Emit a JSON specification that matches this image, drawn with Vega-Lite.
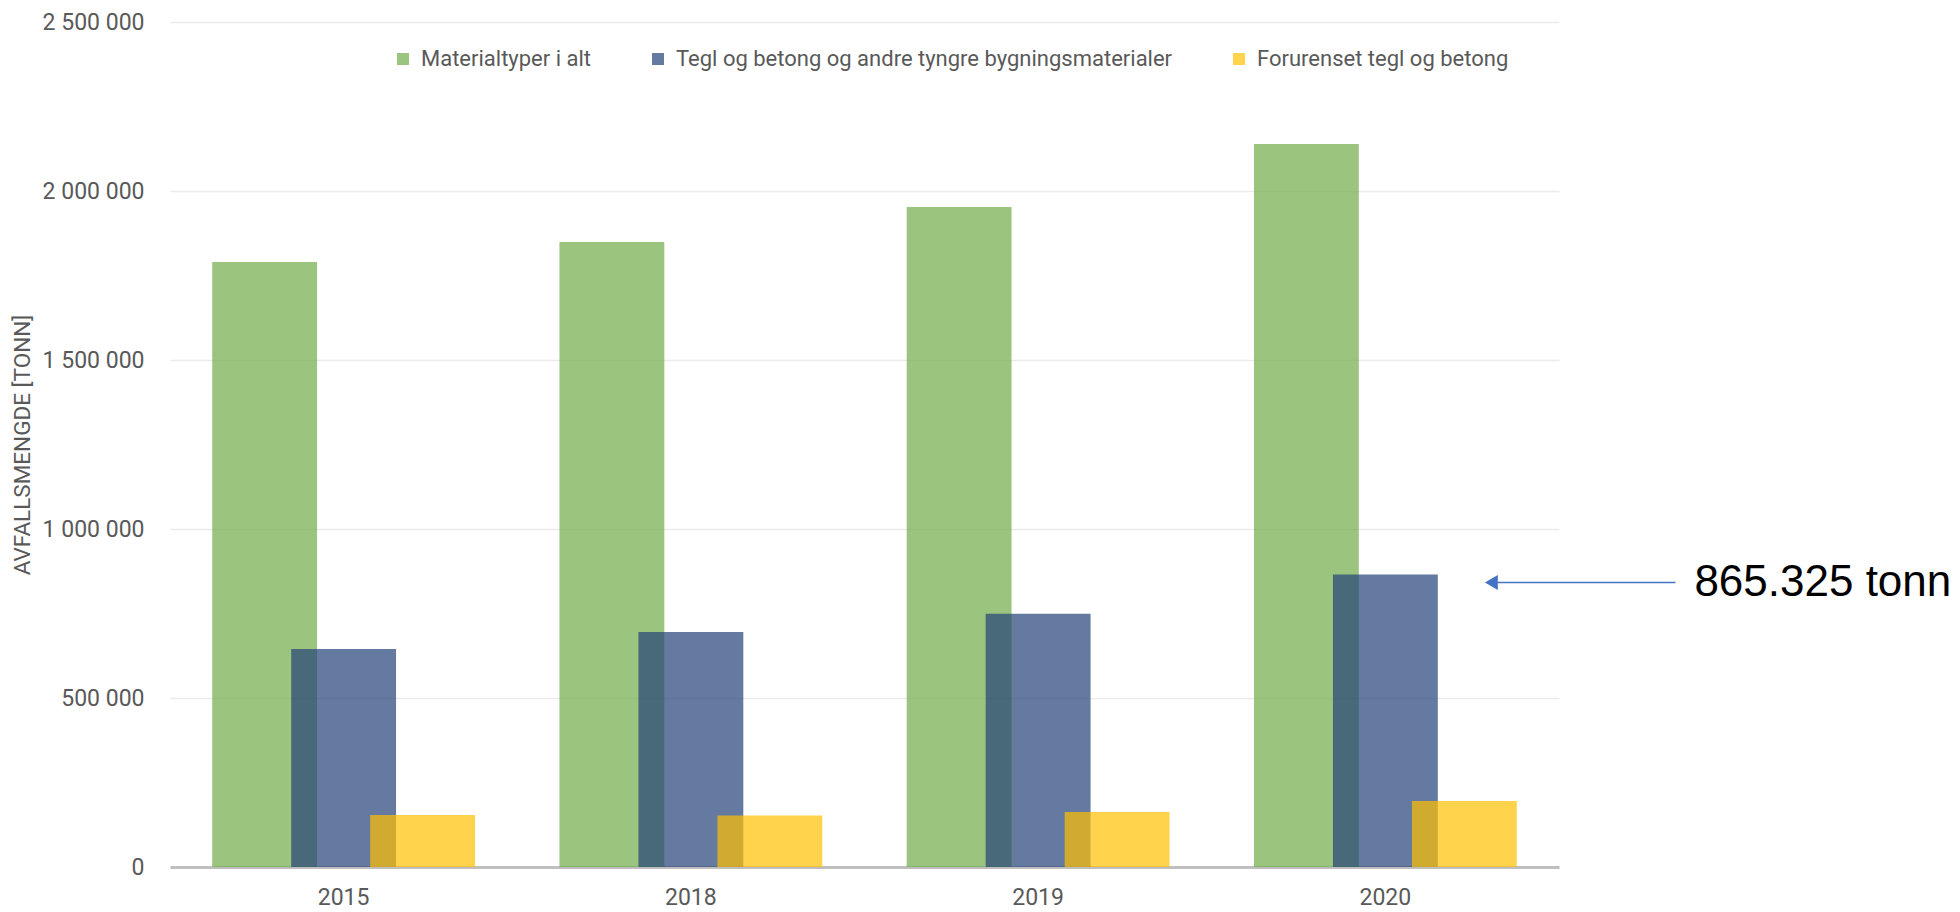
{
  "$schema": "https://vega.github.io/schema/vega-lite/v6.json",
  "width": 1389,
  "height": 845,
  "autosize": {"type": "none"},
  "padding": {"left": 170, "top": 22, "right": 401, "bottom": 45},
  "background": "white",
  "config": {
    "view": {"stroke": null},
    "font": "Roboto, sans-serif",
    "axis": {"labelFont": "Roboto, sans-serif", "titleFont": "Roboto, sans-serif"},
    "legend": {"labelFont": "Roboto, sans-serif"}
  },
  "datasets": {
    "bars": [
      {"year": "2015", "series": "Materialtyper i alt", "value": 1790000},
      {"year": "2018", "series": "Materialtyper i alt", "value": 1849000},
      {"year": "2019", "series": "Materialtyper i alt", "value": 1953000},
      {"year": "2020", "series": "Materialtyper i alt", "value": 2139000},
      {"year": "2015", "series": "Tegl og betong og andre tyngre bygningsmaterialer", "value": 645000},
      {"year": "2018", "series": "Tegl og betong og andre tyngre bygningsmaterialer", "value": 695000},
      {"year": "2019", "series": "Tegl og betong og andre tyngre bygningsmaterialer", "value": 749000},
      {"year": "2020", "series": "Tegl og betong og andre tyngre bygningsmaterialer", "value": 865325},
      {"year": "2015", "series": "Forurenset tegl og betong", "value": 154000},
      {"year": "2018", "series": "Forurenset tegl og betong", "value": 152000},
      {"year": "2019", "series": "Forurenset tegl og betong", "value": 163000},
      {"year": "2020", "series": "Forurenset tegl og betong", "value": 195000}
    ],
    "note": [
      {"year": "2020", "value": 865325, "label": "865.325 tonn"}
    ]
  },
  "encoding": {
    "x": {
      "field": "year", "type": "ordinal",
      "scale": {"domain": ["2015", "2018", "2019", "2020"], "paddingInner": 0, "paddingOuter": 0},
      "axis": {"title": null, "labelAngle": 0, "domainColor": "#BFBFBF", "domainWidth": 3, "ticks": false, "labelPadding": 19, "labelFontSize": 23, "labelColor": "#595959", "grid": false}
    },
    "y": {
      "field": "value", "type": "quantitative",
      "scale": {"domain": [0, 2500000], "nice": false},
      "axis": {
        "title": "AVFALLSMENGDE [TONN]",
        "values": [0, 500000, 1000000, 1500000, 2000000, 2500000],
        "labelExpr": "replace(format(datum.value, ','), /,/g, ' ')",
        "domain": false, "ticks": false,
        "gridColor": "#EBEBEB", "gridWidth": 1.5,
        "labelPadding": 26, "labelFontSize": 23, "labelColor": "#595959",
        "titleFontSize": 22.5, "titleFontWeight": "normal", "titleColor": "#595959", "titlePadding": 8
      }
    }
  },
  "layer": [
    {
      "data": {"name": "bars"},
      "transform": [{"filter": "datum.series === 'Materialtyper i alt'"}],
      "mark": {"type": "bar", "width": {"band": 0.302}, "xOffset": -79, "opacity": 0.7},
      "encoding": {
        "color": {
          "field": "series", "type": "nominal",
          "scale": {"domain": ["Materialtyper i alt", "Tegl og betong og andre tyngre bygningsmaterialer", "Forurenset tegl og betong"], "range": ["#70AD47", "#244277", "#FFC000"]},
          "legend": {"orient": "none", "legendX": 222, "legendY": 26, "direction": "horizontal", "title": null, "symbolType": "square", "symbolSize": 144, "symbolStrokeWidth": 0, "symbolOpacity": 0.7, "labelFontSize": 22, "labelLimit": 0, "labelColor": "#595959", "columnPadding": 55, "labelOffset": 7}
        }
      }
    },
    {
      "data": {"name": "bars"},
      "transform": [{"filter": "datum.series === 'Tegl og betong og andre tyngre bygningsmaterialer'"}],
      "mark": {"type": "bar", "width": {"band": 0.302}, "xOffset": 0, "opacity": 0.7},
      "encoding": {"color": {"field": "series", "type": "nominal"}}
    },
    {
      "data": {"name": "bars"},
      "transform": [{"filter": "datum.series === 'Forurenset tegl og betong'"}],
      "mark": {"type": "bar", "width": {"band": 0.302}, "xOffset": 79, "opacity": 0.7},
      "encoding": {"color": {"field": "series", "type": "nominal"}}
    },
    {
      "data": {"name": "note"},
      "mark": {"type": "rule", "color": "#4472C4", "strokeWidth": 1.5, "xOffset": 104, "x2Offset": 290, "yOffset": 8},
      "encoding": {"x2": {"field": "year"}}
    },
    {
      "data": {"name": "note"},
      "mark": {"type": "point", "shape": "triangle-left", "filled": true, "color": "#4472C4", "opacity": 1, "size": 220, "xOffset": 106, "yOffset": 8},
      "encoding": {}
    },
    {
      "data": {"name": "note"},
      "mark": {"type": "text", "align": "left", "baseline": "middle", "font": "Liberation Sans, Arial, sans-serif", "fontSize": 44, "color": "#000000", "xOffset": 309, "yOffset": 8},
      "encoding": {"text": {"field": "label"}}
    }
  ]
}
